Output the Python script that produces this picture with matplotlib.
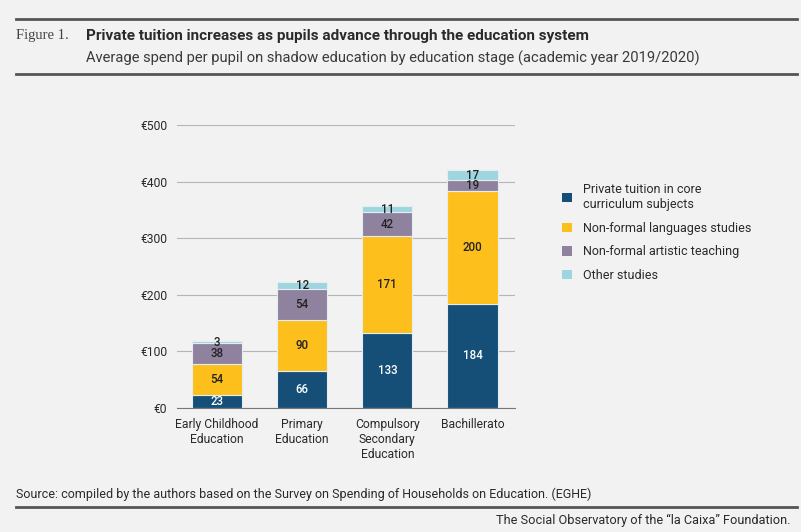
import matplotlib
matplotlib.use("Agg")
import matplotlib.pyplot as plt
from matplotlib.lines import Line2D
from matplotlib.patches import Patch

stages = ["Early Childhood\nEducation", "Primary\nEducation", "Compulsory\nSecondary\nEducation", "Bachillerato"]
core = [23, 66, 133, 184]
languages = [54, 90, 171, 200]
artistic = [38, 54, 42, 19]
other = [3, 12, 11, 17]
series_names = ["Private tuition in core\ncurriculum subjects", "Non-formal languages studies",
                "Non-formal artistic teaching", "Other studies"]
colors = ["#154f78", "#fdbf1c", "#8f829e", "#9fd5df"]
label_colors = ["white", "#222222", "#222222", "#222222"]
yticks = [0, 100, 200, 300, 400, 500]

BG = "#f2f2f2"
TXT = "#2a2a2a"
plt.rcParams["font.family"] = ["Roboto", "DejaVu Sans"]

fig = plt.figure(figsize=(8.01, 5.32), dpi=100, facecolor=BG)
ax = fig.add_axes([0.221, 0.233, 0.422, 0.532], facecolor=BG)

x = range(len(stages))
bottom = [0] * len(stages)
for vals, col, lcol in zip([core, languages, artistic, other], colors, label_colors):
    ax.bar(x, vals, 0.59, bottom=bottom, color=col, edgecolor="#e4eef2", linewidth=0.8, zorder=3)
    for i, v in enumerate(vals):
        ax.text(i, bottom[i] + v / 2, str(v), ha="center", va="center", fontsize=8.3,
                fontweight="medium", color=lcol, zorder=4)
    bottom = [b + v for b, v in zip(bottom, vals)]

ax.set_xlim(-0.47, 3.5)
ax.set_ylim(0, 500)
ax.set_yticks(yticks)
ax.set_yticklabels([f"€{t}" for t in yticks])
ax.set_xticks(list(x))
ax.set_xticklabels(stages, linespacing=1.2)
ax.grid(axis="y", color="#b5b5b5", linewidth=0.8, zorder=0)
for s in ["top", "right", "left"]:
    ax.spines[s].set_visible(False)
ax.spines["bottom"].set_color("#777777")
ax.spines["bottom"].set_zorder(5)
ax.tick_params(axis="both", length=0, labelsize=8.7, colors=TXT)
ax.tick_params(axis="y", pad=7)
ax.tick_params(axis="x", pad=7)

handles = [Patch(facecolor=c, edgecolor="none") for c in colors]
leg = fig.legend(handles, series_names, loc="upper left", bbox_to_anchor=(0.688, 0.677),
                 frameon=False, fontsize=9, handlelength=0.75, handleheight=0.75,
                 handletextpad=0.9, labelspacing=0.85, labelcolor=TXT)

# header / footer
line_kw = dict(color="#555555", linewidth=2, transform=fig.transFigure)
fig.add_artist(Line2D([0.02, 0.995], [1 - 19 / 532] * 2, **line_kw))
fig.add_artist(Line2D([0.02, 0.995], [1 - 74 / 532] * 2, **line_kw))
fig.add_artist(Line2D([0.02, 0.995], [1 - 507 / 532] * 2, **line_kw))

fig.text(0.02, 1 - 36 / 532, "Figure 1.", family="Liberation Serif", fontsize=10.5,
         color="#444444", va="center")
fig.text(86 / 801, 1 - 36 / 532, "Private tuition increases as pupils advance through the education system",
         fontweight="bold", fontsize=11.0, color=TXT, va="center")
fig.text(86 / 801, 1 - 58 / 532, "Average spend per pupil on shadow education by education stage (academic year 2019/2020)",
         fontsize=10.6, color="#3a3a3a", va="center")
fig.text(16 / 801, 1 - 494 / 532, "Source: compiled by the authors based on the Survey on Spending of Households on Education. (EGHE)",
         fontsize=9.0, color=TXT, va="center")
fig.text(790 / 801, 1 - 520 / 532, "The Social Observatory of the “la Caixa” Foundation.",
         fontsize=9.2, color=TXT, va="center", ha="right")

fig.savefig("out.png", dpi=100, facecolor=BG)
